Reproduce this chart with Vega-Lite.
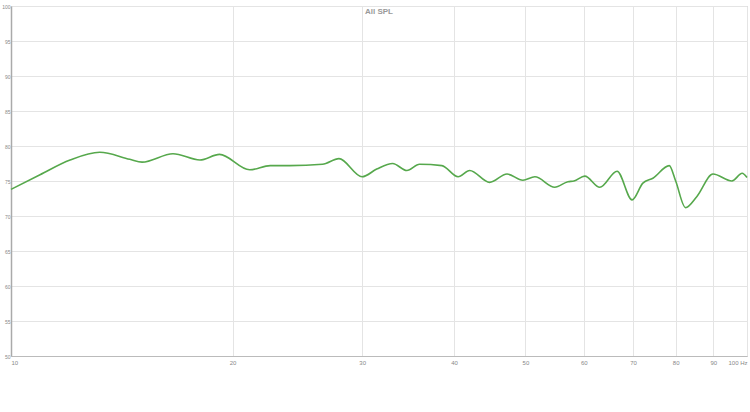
{
  "$schema": "https://vega.github.io/schema/vega-lite/v6.json",
  "autosize": {"type": "none"},
  "width": 736,
  "height": 350,
  "padding": {"left": 11, "top": 6, "right": 3, "bottom": 56},
  "background": "white",
  "title": {"text": "All SPL", "anchor": "middle", "fontSize": 8, "font": "Liberation Sans", "fontWeight": "bold", "color": "#999999", "dy": 16},
  "config": {"view": {"stroke": "#bbbbbb", "strokeWidth": 1}},
  "data": {"values": [
    {"freq": 10, "spl": 73.8},
    {"freq": 10.95, "spl": 75.9},
    {"freq": 12.03, "spl": 78.0},
    {"freq": 13.2, "spl": 79.1},
    {"freq": 14.5, "spl": 78.1},
    {"freq": 15.07, "spl": 77.7},
    {"freq": 16.6, "spl": 78.9},
    {"freq": 18.06, "spl": 78.0},
    {"freq": 19.2, "spl": 78.8},
    {"freq": 21.1, "spl": 76.6},
    {"freq": 22.5, "spl": 77.2},
    {"freq": 23.9, "spl": 77.2},
    {"freq": 26.5, "spl": 77.4},
    {"freq": 27.9, "spl": 78.2},
    {"freq": 30.0, "spl": 75.6},
    {"freq": 31.4, "spl": 76.7},
    {"freq": 33.0, "spl": 77.5},
    {"freq": 34.5, "spl": 76.5},
    {"freq": 35.9, "spl": 77.4},
    {"freq": 38.5, "spl": 77.2},
    {"freq": 40.5, "spl": 75.6},
    {"freq": 42.0, "spl": 76.5},
    {"freq": 44.7, "spl": 74.8},
    {"freq": 47.2, "spl": 76.0},
    {"freq": 49.6, "spl": 75.1},
    {"freq": 51.5, "spl": 75.6},
    {"freq": 54.8, "spl": 74.1},
    {"freq": 57.1, "spl": 74.9},
    {"freq": 58.2, "spl": 75.0},
    {"freq": 60.2, "spl": 75.7},
    {"freq": 63.1, "spl": 74.1},
    {"freq": 66.6, "spl": 76.4},
    {"freq": 69.8, "spl": 72.3},
    {"freq": 72.2, "spl": 74.7},
    {"freq": 74.5, "spl": 75.4},
    {"freq": 78.4, "spl": 77.2},
    {"freq": 80.0, "spl": 75.0},
    {"freq": 82.5, "spl": 71.2},
    {"freq": 85.5, "spl": 72.8},
    {"freq": 89.9, "spl": 76.0},
    {"freq": 95.4, "spl": 75.0},
    {"freq": 98.5, "spl": 76.1},
    {"freq": 100, "spl": 75.5}
  ]},
  "mark": {"type": "line", "interpolate": "monotone", "color": "#56a84c", "strokeWidth": 1.6},
  "encoding": {
    "x": {
      "field": "freq", "type": "quantitative",
      "scale": {"type": "log", "domain": [10, 100], "nice": false},
      "axis": {
        "title": null,
        "values": [10, 20, 30, 40, 50, 60, 70, 80, 90, 100],
        "labelExpr": "datum.value == 100 ? '100 Hz' : datum.label",
        "labelFontSize": 6, "labelColor": "#888888", "labelFont": "Liberation Sans",
        "labelOverlap": false, "labelFlush": true,
        "gridColor": "#e4e4e4", "gridWidth": 1,
        "domainColor": "#bbbbbb", "ticks": false, "labelPadding": 3
      }
    },
    "y": {
      "field": "spl", "type": "quantitative",
      "scale": {"domain": [50, 100], "nice": false, "zero": false},
      "axis": {
        "title": null,
        "values": [50, 55, 60, 65, 70, 75, 80, 85, 90, 95, 100],
        "labelFontSize": 5, "labelColor": "#888888", "labelFont": "Liberation Sans",
        "labelOverlap": false,
        "gridColor": "#e4e4e4", "gridWidth": 1,
        "domainColor": "#aaaaaa", "domainWidth": 1.5, "ticks": false, "labelPadding": 1
      }
    }
  }
}
